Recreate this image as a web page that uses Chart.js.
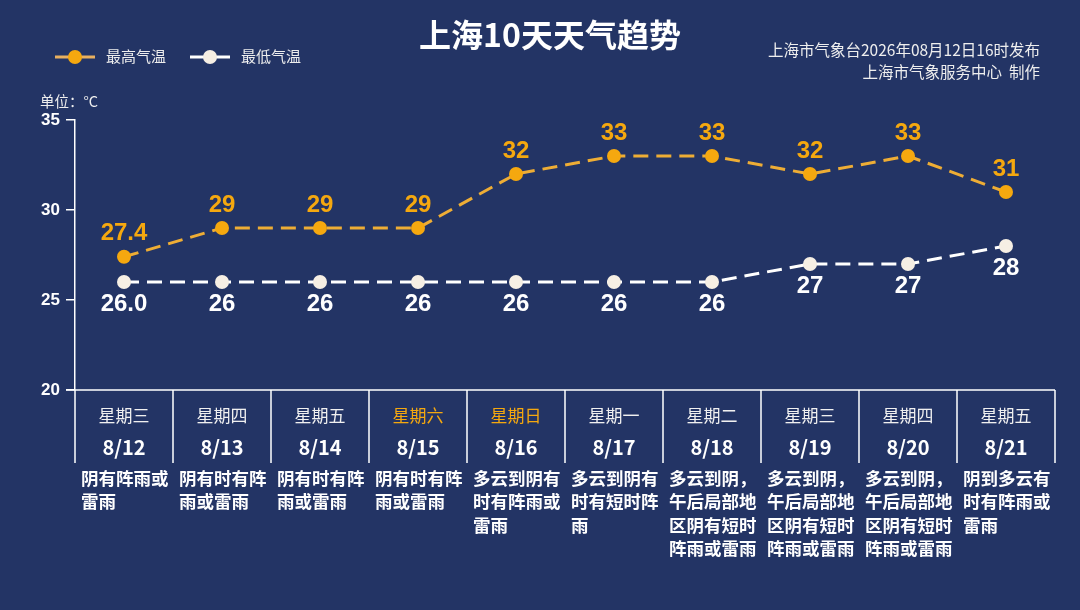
<!DOCTYPE html>
<html>
<head>
<meta charset="utf-8">
<script src="https://cdn.jsdelivr.net/npm/chart.js@4"></script>
<style>
  html, body { margin: 0; padding: 0; background: #233465; }
  canvas { display: block; }
</style>
</head>
<body>
<canvas id="chart" width="1080" height="610"></canvas>
<script>
const days = ['8/12', '8/13', '8/14', '8/15', '8/16', '8/17', '8/18', '8/19', '8/20', '8/21'];
const weekdays = ['星期三', '星期四', '星期五', '星期六', '星期日', '星期一', '星期二', '星期三', '星期四', '星期五'];
const highs = [27.4, 29, 29, 29, 32, 33, 33, 32, 33, 31];
const lows = [26, 26, 26, 26, 26, 26, 26, 27, 27, 28];
const highLabels = ['27.4', '29', '29', '29', '32', '33', '33', '32', '33', '31'];
const lowLabels = ['26.0', '26', '26', '26', '26', '26', '26', '27', '27', '28'];
const weather = [
    '阴有阵雨或雷雨',
    '阴有时有阵雨或雷雨',
    '阴有时有阵雨或雷雨',
    '阴有时有阵雨或雷雨',
    '多云到阴有时有阵雨或雷雨',
    '多云到阴有时有短时阵雨',
    '多云到阴，午后局部地区阴有短时阵雨或雷雨',
    '多云到阴，午后局部地区阴有短时阵雨或雷雨',
    '多云到阴，午后局部地区阴有短时阵雨或雷雨',
    '阴到多云有时有阵雨或雷雨'
];
const yTicks = [20, 25, 30, 35];

const ORANGE = '#f5a80f';
const WHITE = '#ffffff';
const CJK = '"Noto Sans CJK SC", sans-serif';
const NUM = '"Liberation Sans", Arial, "Noto Sans CJK SC", sans-serif';

const decor = {
    id: 'decor',
    afterDraw(chart) {
        const ctx = chart.ctx;
        const area = chart.chartArea;
        const xs = chart.scales.x;
        ctx.save();

        // title
        ctx.fillStyle = WHITE;
        ctx.textAlign = 'center';
        ctx.textBaseline = 'middle';
        ctx.font = 'bold 32px ' + CJK;
        ctx.fillText('上海10天天气趋势', 550, 35);

        // source text
        ctx.textAlign = 'right';
        ctx.font = '15.5px ' + CJK;
        ctx.fillStyle = '#eeeeee';
        ctx.fillText('上海市气象台2026年08月12日16时发布', 1040, 50);
        ctx.fillText('上海市气象服务中心  制作', 1040, 72);

        // legend
        const legend = [['最高气温', ORANGE, '#e8b060', 55], ['最低气温', '#f6efe4', WHITE, 190]];
        legend.forEach(([txt, pt, ln, x0]) => {
            ctx.strokeStyle = ln;
            ctx.lineWidth = 3;
            ctx.beginPath();
            ctx.moveTo(x0, 57);
            ctx.lineTo(x0 + 40, 57);
            ctx.stroke();
            ctx.fillStyle = pt;
            ctx.beginPath();
            ctx.arc(x0 + 20, 57, 7, 0, Math.PI * 2);
            ctx.fill();
            ctx.fillStyle = '#eeeeee';
            ctx.textAlign = 'left';
            ctx.font = '15px ' + CJK;
            ctx.fillText(txt, x0 + 51, 56);
        });

        // unit
        ctx.font = '14.5px ' + CJK;
        ctx.fillStyle = '#eeeeee';
        ctx.fillText('单位：°C', 40, 101);

        // table lines
        ctx.strokeStyle = WHITE;
        ctx.lineWidth = 1.5;
        ctx.beginPath();
        ctx.moveTo(area.left - 9, area.bottom);
        ctx.lineTo(area.right, area.bottom);
        const step = (xs.getPixelForValue(1) - xs.getPixelForValue(0));
        for (let i = 0; i <= days.length; i++) {
            const x = xs.getPixelForValue(0) - step / 2 + i * step;
            ctx.moveTo(x, area.bottom);
            ctx.lineTo(x, area.bottom + 73);
        }
        ctx.stroke();

        // table text
        days.forEach((d, i) => {
            const cx = xs.getPixelForValue(i);
            const weekend = weekdays[i] === '星期六' || weekdays[i] === '星期日';
            ctx.textAlign = 'center';
            ctx.fillStyle = weekend ? ORANGE : '#f0f0f0';
            ctx.font = '17px ' + CJK;
            ctx.fillText(weekdays[i], cx, 416);
            ctx.fillStyle = WHITE;
            ctx.font = 'bold 20px ' + CJK;
            ctx.fillText(d, cx, 447);
            ctx.textAlign = 'left';
            ctx.font = 'bold 17.5px ' + CJK;
            const w = weather[i];
            for (let k = 0; k * 5 < w.length; k++) {
                ctx.fillText(w.slice(k * 5, k * 5 + 5), cx - step / 2 + 6, 478 + k * 23.5);
            }
        });

        // value labels
        ctx.textAlign = 'center';
        ctx.font = 'bold 24px ' + NUM;
        const mh = chart.getDatasetMeta(0).data;
        const ml = chart.getDatasetMeta(1).data;
        mh.forEach((p, i) => {
            ctx.fillStyle = ORANGE;
            ctx.fillText(highLabels[i], p.x, p.y - 23);
        });
        ml.forEach((p, i) => {
            ctx.fillStyle = WHITE;
            ctx.fillText(lowLabels[i], p.x, p.y + 22);
        });

        ctx.restore();
    }
};

new Chart(document.getElementById('chart'), {
    type: 'line',
    data: {
        labels: days,
        datasets: [{
            label: '最高气温',
            data: highs,
            borderColor: '#eead35',
            borderWidth: 3,
            borderDash: [15, 8],
            backgroundColor: ORANGE,
            pointBackgroundColor: ORANGE,
            pointBorderWidth: 0,
            pointRadius: 7,
            tension: 0
        }, {
            label: '最低气温',
            data: lows,
            borderColor: WHITE,
            borderWidth: 3,
            borderDash: [15, 8],
            backgroundColor: '#f6efe4',
            pointBackgroundColor: '#f6efe4',
            pointBorderWidth: 0,
            pointRadius: 7,
            tension: 0
        }]
    },
    options: {
        responsive: false,
        animation: false,
        devicePixelRatio: 1,
        layout: { padding: { left: 0, right: 25, top: 120, bottom: 220 } },
        plugins: { legend: { display: false }, tooltip: { enabled: false } },
        scales: {
            x: { display: false, offset: true },
            y: {
                min: 20,
                max: 35,
                afterFit: s => { s.width = 75; },
                afterBuildTicks: s => { s.ticks = yTicks.map(v => ({ value: v })); },
                grid: { drawOnChartArea: false, color: WHITE, tickLength: 9, lineWidth: 1.5 },
                border: { display: true, color: WHITE, width: 1.5 },
                ticks: { color: WHITE, padding: 6, font: { family: NUM, weight: 'bold', size: 17 } }
            }
        }
    },
    plugins: [decor]
});
</script>
</body>
</html>
